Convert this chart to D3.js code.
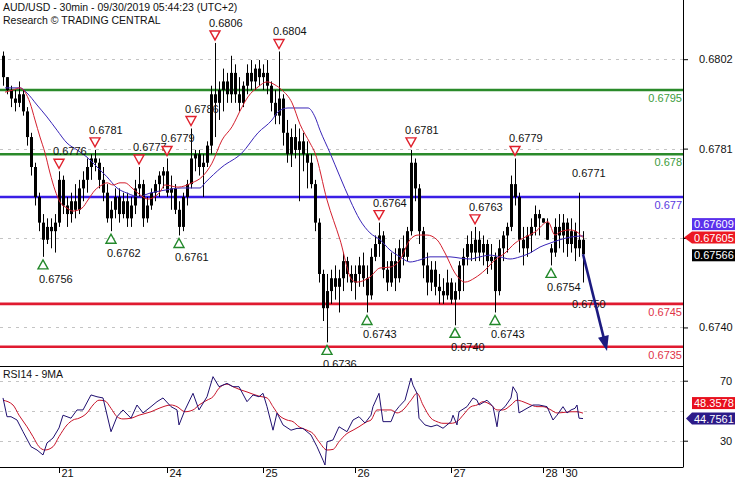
<!DOCTYPE html>
<html><head><meta charset="utf-8">
<script src="https://cdn.jsdelivr.net/npm/d3@7"></script>
<style>
body{margin:0;background:#fff;}
svg{display:block;font-family:"Liberation Sans",Arial,sans-serif;font-size:11px;}
</style>
</head><body>
<svg id="c" width="735" height="480"></svg>
<script>
// ---------- DATA ----------
const titleLines = ["AUD/USD - 30min - 09/30/2019 05:44:23 (UTC+2)", "Research \u00A9 TRADING CENTRAL"];
const rsiTitle = "RSI14 - 9MA";
const dayTicks  = [14, 41, 65, 88, 112, 135, 140];
const dayLabels = ["21", "24", "25", "26", "27", "28", "30"];
const priceTicks = [0.68022, 0.67813, 0.67604, 0.67395];
const hiddenPriceTick = 0.67604;   // its label sits behind the value boxes
const rsiGrid = [70, 50, 30];
const rsiTickLabels = [70, 30];

// [open, high, low, close] per bar
const ohlc = [
[.6803,.6804,.6796,.6798],[.6798,.6798,.6794,.6795],[.6795,.6796,.6791,.6793],[.6793,.6795,.6790,.6792],[.6792,.6797,.6791,.6794],
[.6794,.6795,.6789,.6790],[.6790,.6791,.6782,.6784],[.6784,.6785,.6775,.6777],[.6777,.6778,.6768,.6770],[.6770,.6771,.6762,.6764],
[.6764,.6766,.6756,.6760],[.6760,.6765,.6759,.6763],[.6763,.6765,.6758,.6762],[.6762,.6766,.6757,.6764],[.6764,.6776,.6763,.6774],
[.6774,.6775,.6766,.6768],[.6768,.6770,.6763,.6766],[.6766,.6771,.6764,.6769],[.6769,.6773,.6765,.6767],[.6767,.6774,.6766,.6772],
[.6772,.6776,.6769,.6774],[.6774,.6779,.6771,.6777],[.6777,.6780,.6774,.6779],[.6779,.6781,.6776,.6778],[.6778,.6779,.6772,.6774],
[.6774,.6777,.6769,.6771],[.6771,.6773,.6764,.6765],[.6765,.6769,.6762,.6767],[.6767,.6772,.6765,.6770],[.6770,.6772,.6764,.6766],
[.6766,.6771,.6765,.6769],[.6769,.6771,.6763,.6765],[.6765,.6770,.6763,.6768],[.6768,.6774,.6766,.6772],[.6772,.6777,.6770,.6773],
[.6773,.6774,.6763,.6765],[.6765,.6770,.6764,.6768],[.6768,.6772,.6767,.6771],[.6771,.6774,.6769,.6773],[.6773,.6776,.6770,.6775],
[.6775,.6777,.6772,.6776],[.6776,.6779,.6770,.6771],[.6771,.6775,.6767,.6772],[.6772,.6773,.6766,.6767],[.6767,.6769,.6761,.6763],
[.6763,.6771,.6762,.6770],[.6770,.6774,.6768,.6773],[.6773,.6786,.6772,.6779],[.6779,.6781,.6776,.6780],[.6780,.6781,.6775,.6777],
[.6777,.6780,.6770,.6778],[.6778,.6783,.6777,.6782],[.6782,.6796,.6780,.6794],[.6794,.6806,.6784,.6792],[.6792,.6797,.6788,.6795],
[.6795,.6800,.6790,.6797],[.6797,.6799,.6792,.6794],[.6794,.6803,.6792,.6799],[.6799,.6801,.6792,.6794],[.6794,.6798,.6790,.6792],
[.6792,.6797,.6791,.6796],[.6796,.6801,.6794,.6799],[.6799,.6802,.6795,.6797],[.6797,.6801,.6795,.6800],[.6800,.6802,.6796,.6798],
[.6798,.6801,.6795,.6799],[.6799,.6802,.6794,.6796],[.6796,.6797,.6790,.6792],[.6792,.6795,.6787,.6789],[.6789,.6804,.6787,.6793],
[.6793,.6794,.6782,.6785],[.6785,.6788,.6778,.6780],[.6780,.6786,.6777,.6784],[.6784,.6787,.6779,.6781],[.6781,.6786,.6769,.6783],
[.6783,.6785,.6776,.6780],[.6780,.6783,.6772,.6778],[.6778,.6780,.6772,.6773],[.6773,.6774,.6762,.6764],[.6764,.6765,.6750,.6752],
[.6752,.6753,.6741,.6744],[.6744,.6752,.6736,.6748],[.6748,.6753,.6745,.6751],[.6751,.6754,.6746,.6749],[.6749,.6753,.6743,.6751],
[.6751,.6757,.6748,.6755],[.6755,.6756,.6750,.6752],[.6752,.6754,.6748,.6750],[.6750,.6754,.6746,.6752],[.6752,.6756,.6749,.6754],
[.6754,.6757,.6749,.6751],[.6751,.6754,.6743,.6747],[.6747,.6758,.6746,.6756],[.6756,.6761,.6755,.6759],[.6759,.6764,.6756,.6761],
[.6761,.6762,.6751,.6753],[.6753,.6755,.6748,.6750],[.6750,.6757,.6749,.6755],[.6755,.6758,.6748,.6751],[.6751,.6760,.6750,.6758],
[.6758,.6761,.6754,.6756],[.6756,.6763,.6755,.6762],[.6762,.6781,.6761,.6778],[.6778,.6779,.6769,.6772],[.6772,.6773,.6759,.6762],
[.6762,.6763,.6751,.6754],[.6754,.6757,.6747,.6750],[.6750,.6755,.6748,.6753],[.6753,.6755,.6747,.6749],[.6749,.6752,.6745,.6748],
[.6748,.6751,.6745,.6747],[.6747,.6753,.6746,.6750],[.6750,.6751,.6745,.6746],[.6746,.6750,.6740,.6748],[.6748,.6755,.6746,.6754],
[.6754,.6758,.6748,.6756],[.6756,.6761,.6754,.6759],[.6759,.6762,.6755,.6757],[.6757,.6763,.6755,.6760],[.6760,.6762,.6755,.6757],
[.6757,.6761,.6754,.6759],[.6759,.6760,.6752,.6755],[.6755,.6759,.6753,.6756],[.6756,.6757,.6743,.6748],[.6748,.6760,.6747,.6758],
[.6758,.6762,.6755,.6761],[.6761,.6764,.6757,.6763],[.6763,.6775,.6762,.6773],[.6773,.6779,.6768,.6770],[.6770,.6771,.6757,.6760],
[.6760,.6763,.6754,.6758],[.6758,.6763,.6756,.6761],[.6761,.6765,.6757,.6763],[.6763,.6768,.6761,.6766],[.6766,.6767,.6761,.6765],
[.6765,.6765,.6764,.6764],[.6764,.6765,.6760,.6760],[.6758,.6759,.6754,.6757],[.6757,.6765,.6756,.6763],[.6763,.6766,.6758,.6761],
[.6761,.6766,.6757,.6764],[.6764,.6765,.6756,.6759],[.6759,.6765,.6757,.6762],[.6762,.6764,.6755,.6758],[.6758,.6771,.6756,.6760],
[.6760,.6762,.6750,.67566]
];

// moving averages: [bar index, price]
const maFast = [[0.5,.67945],[2.5,.6795],[4.25,.67955],[5.5,.67945],[6.75,.6792],[8,.6788],[9.25,.6784],[10.5,.67803],[11.75,.67756],
[13,.67716],[14.25,.67688],[16,.67674],[17.5,.67667],[19.75,.67674],[21.25,.67693],[23,.67716],[24.75,.67728],[26,.67733],[27.5,.67728],
[29.25,.67733],[30.5,.67733],[32.25,.67721],[34.25,.67705],[36.25,.67695],[39.25,.67712],[40.5,.67728],[43.75,.67723],[47.25,.67733],
[49.75,.67747],[52.25,.67779],[54.75,.67833],[57.25,.67864],[59.75,.6791],[61.25,.67934],[63.75,.67957],[66,.67969],[68,.67962],
[69.75,.6795],[72.25,.6792],[74.25,.6787],[76.75,.67826],[78,.67803],[81,.67693],[84.25,.676],[87.25,.67506],[88.5,.67501],
[91.75,.67513],[94.25,.67534],[96.75,.67536],[99.25,.67553],[101.75,.676],[103.75,.67611],[106,.67611],[108.5,.676],[110.5,.67569],
[113,.67522],[115.5,.67501],[118,.67511],[120.5,.67529],[123,.67553],[125.5,.67569],[128,.67592],[130.5,.67606],[133,.67618],
[136.25,.67642],[138,.67611],[139.25,.67618],[141.75,.67623],[143.5,.67618],[145,.67605]];
const maSlow = [[0.5,.67955],[4.25,.67955],[6,.67943],[8.5,.67915],[11,.67887],[13.5,.67856],[16,.67826],[18.5,.6781],[21,.67793],
[23.5,.6777],[26,.67747],[28.5,.67721],[31,.67709],[34.25,.677],[35.5,.67705],[40.5,.67716],[44.75,.67721],[49.25,.67721],[50.5,.67733],
[54.75,.6777],[59.75,.67803],[63.75,.6785],[67.25,.6788],[68.75,.67899],[71.25,.67908],[74.25,.67908],[76.25,.67908],[78,.67887],
[79.25,.67856],[81.75,.67803],[84.25,.67747],[86.75,.67693],[89.25,.67646],[91.75,.67616],[94.25,.676],[96.75,.67576],[99.25,.6756],
[101.75,.67548],[104.25,.67553],[106.75,.6756],[109.25,.6756],[111.75,.6756],[114.25,.67557],[116.75,.67555],[119.25,.6756],
[121.75,.67564],[124.25,.6756],[126.75,.67555],[129.25,.6756],[131.75,.67569],[134.25,.67583],[136.75,.67592],[139.25,.676],
[141.75,.67606],[145,.67609]];

// RSI(14) and its 9-period MA: [bar index, value]
const rsi = [[0,58.5],[1,46],[2,46],[3.5,43.8],[5,36],[7,26],[8.5,23.8],[10,20.5],[11,28.5],[12.5,31.8],[14,38.5],[15,47],[17,45],
[18.5,50.5],[20,50.5],[22,60.5],[23.5,59.3],[25,58.5],[27,36],[28.5,46],[30,50.5],[32,45],[33.5,53.8],[35,48.5],[37,52.7],[38.5,56],
[40,58.5],[42,52.7],[43.5,50.5],[44,40.5],[45.5,50.5],[47.5,61.6],[49,50.5],[51,59.3],[52.5,72.7],[54,66],[56,68.2],[57.5,66],[59,66],
[61,56],[62.5,60.5],[64,59.3],[65,61.6],[66,52.7],[67.5,37],[68.5,48.5],[70,40.5],[72,37],[73.5,38.2],[75,38.2],[77,33.8],[78.5,26],
[80,17],[80.5,13.8],[81,29.3],[82.5,30.5],[84,39.3],[86,36],[87.5,43.8],[89,46],[90.5,41.8],[92,47],[92.5,52.7],[94,61.6],[95,42.7],
[97,42.7],[98,49.3],[99,52.7],[100.5,57],[102,71.8],[102.5,67],[103.5,61.6],[104,45],[105.5,40.5],[107,39.3],[108.5,40.5],[110,38.3],
[112,42.7],[112.5,47],[113.5,40.5],[114,49.3],[116,52.7],[117.5,58.5],[118.5,57],[119,53.8],[121,57],[122.5,52.7],[123.5,39.3],
[124,49.3],[125.5,52.7],[127,58.5],[127.5,66],[128.5,61.6],[129,48.5],[131,51.6],[132.5,53.8],[134,53.8],[136,52.7],[137.5,43.8],
[138.5,47],[140,52.7],[141,48.5],[142,50.5],[143,51.6],[143.5,53.8],[144,45],[145,44.7561]];
const rsiMa = [[0,57],[2.5,53.8],[4,47],[6,39.3],[7.5,32.7],[9,26],[10.5,23.8],[12.5,26],[14,32.7],[16,40.5],[17.5,43.8],[19,45],
[21,48.5],[22.5,53.8],[24,57],[25.5,56.5],[27,51.6],[28.5,46],[30,44.5],[32,45],[34,47],[37,49.3],[39,51.6],[42,53.8],[43.5,52.7],
[45.5,49.3],[47.5,50.5],[49,53.8],[51,57],[52.5,59.3],[54,65],[56,67.7],[57.5,66],[59,64.3],[61,62.5],[62.5,61],[64,59.7],[66,58.5],
[67.5,52.7],[69,47],[71,43.8],[72.5,42.7],[74,39.3],[76,37],[77.5,34.8],[79,29.3],[81,23.8],[82.5,24.2],[84,29.3],[86,34.8],[87.5,37],
[89,39.3],[91,42.7],[92,43.8],[93.5,50.5],[95,50.5],[97,50.5],[98.5,48.5],[100,50.5],[102,57],[103.5,61.6],[105,53.8],[107,45],
[108.5,42.7],[110,41.6],[112,41.6],[113.5,42.7],[115,47],[117,52.7],[118.5,53.8],[120,56],[122,53.8],[123.5,50.5],[125,50.5],
[127,53.8],[128.5,57],[130,56],[132,53.8],[133.5,52.7],[135,52.7],[137,50.5],[138.5,48.5],[140,48.8],[142,49.3],[143.5,49.3],[145,48.3578]];

// key levels
const levels      = [0.6795, 0.6780, 0.6770, 0.6745, 0.6735];
const levelLabels = ["0.6795", "0.678", "0.677", "0.6745", "0.6735"];
const levelKinds  = ["res", "res", "pivot", "sup", "sup"];

// swing marks: [bar index, price]
const peaks   = [[14,.6776],[23,.6781],[34,.6777],[41,.6779],[47,.6786],[53,.6806],[69,.6804],[94,.6764],[102,.6781],[118,.6763],[128,.6779]];
const troughs = [[10,.6756],[27,.6762],[44,.6761],[81,.6736],[91,.6743],[113,.6740],[123,.6743],[137,.6754]];
const peakTextOnly   = [[144,.6771]];
const troughTextOnly = [[145,.6750]];

// forecast arrow: [bar index, price]
const forecast = [[145,.67566],[151,.6734]];

// last values
const lastClose = 0.67566, lastMaFast = 0.67605, lastMaSlow = 0.67609;
const lastRsi = 44.7561, lastRsiMa = 48.3578;

// ---------- DRAW ----------
const PR = 683, MB = 366, RT = 366, RB = 467;
const C = {res:"#2a8a2a", resT:"#3c9c3c", pivot:"#3a1ee6", pivotT:"#5a3ae0", sup:"#e01a30", supT:"#e03448",
  maFast:"#d4202e", maSlow:"#3a26b8", rsi:"#201070", rsiMa:"#c8142a", grid:"#c4c4c4"};
const FF = "Liberation Sans, Arial, sans-serif";

const svg = d3.select("#c");
const x  = d3.scaleLinear().domain([0,145]).range([3,583]);
const y  = d3.scaleLinear().domain([0.6735,0.6795]).range([346.7,90]);
const yr = d3.scaleLinear().domain([30,70]).range([440.7,380.7]);

const defs = svg.append("defs");
defs.append("clipPath").attr("id","cm").append("rect").attr("x",0).attr("y",0).attr("width",PR).attr("height",MB);
defs.append("clipPath").attr("id","cr").append("rect").attr("x",0).attr("y",RT).attr("width",PR).attr("height",RB-RT);

// gridlines
const gm = svg.append("g");
gm.selectAll("line.pg").data(priceTicks).join("line")
  .attr("x1",0).attr("x2",PR).attr("y1",d=>Math.round(y(d))+0.5).attr("y2",d=>Math.round(y(d))+0.5)
  .attr("stroke",C.grid).attr("stroke-dasharray","3,5");
gm.selectAll("line.rg").data(rsiGrid).join("line")
  .attr("x1",0).attr("x2",PR).attr("y1",d=>Math.round(yr(d))+0.5).attr("y2",d=>Math.round(yr(d))+0.5)
  .attr("stroke",C.grid).attr("stroke-dasharray","3,5");

const main = svg.append("g").attr("clip-path","url(#cm)");

// levels
main.selectAll("line.lv").data(levels).join("line")
  .attr("x1",0).attr("x2",PR).attr("y1",d=>y(d)).attr("y2",d=>y(d))
  .attr("stroke",(d,i)=>C[levelKinds[i]]).attr("stroke-width",2.6);

// candles
const cg = main.append("g");
ohlc.forEach((b,i)=>{
  const cx = Math.round(x(i));
  cg.append("line").attr("x1",cx+0.5).attr("x2",cx+0.5).attr("y1",y(b[1])).attr("y2",y(b[2]))
    .attr("stroke","#000").attr("stroke-width",1);
  const top = y(Math.max(b[0],b[3])), bot = y(Math.min(b[0],b[3]));
  cg.append("rect").attr("x",cx-1).attr("width",3).attr("y",top).attr("height",Math.max(1.5,bot-top))
    .attr("fill","#000");
});

// MAs
const ln = d3.line().x(d=>x(d[0])).y(d=>y(d[1])).curve(d3.curveMonotoneX);
main.append("path").attr("d",ln(maSlow)).attr("fill","none").attr("stroke",C.maSlow).attr("stroke-width",1);
main.append("path").attr("d",ln(maFast)).attr("fill","none").attr("stroke",C.maFast).attr("stroke-width",1);

// level labels
main.selectAll("text.lv").data(levels).join("text")
  .attr("x",PR-1).attr("y",d=>y(d)+12).attr("text-anchor","end")
  .attr("fill",(d,i)=>C[levelKinds[i]+"T"]).text((d,i)=>levelLabels[i]);

// swing marks
const fmt = d3.format(".4f");
const mk = main.append("g");
peaks.forEach(p=>{
  const cx = x(p[0]), ty = y(p[1]);
  mk.append("path").attr("d",`M${cx-5},${ty-12}L${cx+5},${ty-12}L${cx},${ty-3}Z`)
    .attr("fill","#fff").attr("stroke","#e0202c").attr("stroke-width",1.4);
  mk.append("text").attr("x",cx-6).attr("y",ty-16).attr("fill","#111").text(fmt(p[1]));
});
peakTextOnly.forEach(p=>{
  mk.append("text").attr("x",x(p[0])-7).attr("y",y(p[1])-16).attr("fill","#111").text(fmt(p[1]));
});
troughs.forEach(p=>{
  const cx = x(p[0]), ty = y(p[1]);
  mk.append("path").attr("d",`M${cx-5},${ty+12}L${cx+5},${ty+12}L${cx},${ty+3}Z`)
    .attr("fill","#fff").attr("stroke","#22882a").attr("stroke-width",1.4);
  mk.append("text").attr("x",cx-4).attr("y",ty+26).attr("fill","#111").text(fmt(p[1]));
});
troughTextOnly.forEach(p=>{
  mk.append("text").attr("x",x(p[0])-11).attr("y",y(p[1])+25).attr("fill","#111").text(fmt(p[1]));
});

// forecast arrow
{
  const x0 = x(forecast[0][0]), y0 = y(forecast[0][1]), x1 = x(forecast[1][0]), y1 = y(forecast[1][1]);
  const dx = x1-x0, dy = y1-y0, L = Math.hypot(dx,dy), ux = dx/L, uy = dy/L;
  const hl = 15, hw = 5.5;
  const bx = x1-ux*hl, by = y1-uy*hl;
  main.append("line").attr("x1",x0).attr("y1",y0).attr("x2",bx+ux*2).attr("y2",by+uy*2)
    .attr("stroke","#1c1a80").attr("stroke-width",2.6);
  main.append("path").attr("d",`M${x1},${y1}L${bx-uy*hw},${by+ux*hw}L${bx+uy*hw},${by-ux*hw}Z`).attr("fill","#1c1a80");
}

// RSI pane
const rp = svg.append("g").attr("clip-path","url(#cr)");
rp.append("path").attr("d",d3.line().x(d=>x(d[0])).y(d=>yr(d[1])).curve(d3.curveMonotoneX)(rsiMa))
  .attr("fill","none").attr("stroke",C.rsiMa).attr("stroke-width",1);
rp.append("path").attr("d",d3.line().x(d=>x(d[0])).y(d=>yr(d[1]))(rsi))
  .attr("fill","none").attr("stroke",C.rsi).attr("stroke-width",1);

// frame lines
svg.append("line").attr("x1",PR+0.5).attr("x2",PR+0.5).attr("y1",0).attr("y2",RB).attr("stroke","#000");
svg.append("line").attr("x1",0).attr("x2",PR+0.5).attr("y1",MB+0.5).attr("y2",MB+0.5).attr("stroke","#000");
svg.append("line").attr("x1",0).attr("x2",PR+0.5).attr("y1",RB+0.5).attr("y2",RB+0.5).attr("stroke","#000");

// titles
svg.append("text").attr("x",3).attr("y",11).attr("font-size",10.5).attr("fill","#111").text(titleLines[0]);
svg.append("text").attr("x",3).attr("y",24).attr("font-size",10.5).attr("fill","#111").text(titleLines[1]);
svg.append("text").attr("x",3).attr("y",378).attr("font-size",10.5).attr("fill","#111").text(rsiTitle);

// right price axis
const ya = svg.append("g").attr("transform",`translate(${PR},0)`)
  .call(d3.axisRight(y).tickValues(priceTicks).tickFormat(d=>d===hiddenPriceTick?"":fmt(d)).tickSize(5).tickPadding(11));
ya.select(".domain").remove();
ya.selectAll("text").attr("font-size",11).attr("font-family",FF).attr("fill","#111");
ya.selectAll("line").attr("stroke","#000");

// right RSI axis
const ra = svg.append("g").attr("transform",`translate(${PR},0)`)
  .call(d3.axisRight(yr).tickValues(rsiTickLabels).tickFormat(d3.format("d")).tickSize(5).tickPadding(32));
ra.select(".domain").remove();
ra.selectAll("text").attr("font-size",11).attr("font-family",FF).attr("fill","#111");

// bottom day axis
const xa = svg.append("g").attr("transform",`translate(0,${RB})`)
  .call(d3.axisBottom(x).tickValues(dayTicks).tickFormat((d,i)=>dayLabels[i]).tickSize(6));
xa.select(".domain").remove();
xa.selectAll("text").attr("font-size",11).attr("font-family",FF)
  .attr("fill","#111").attr("text-anchor","start").attr("x",2).attr("y",2);
xa.selectAll("line").attr("stroke","#000");

// value boxes
function box(cy, txt, fill, arrowX){
  const g = svg.append("g");
  if(arrowX!=null){
    g.append("path").attr("d",`M${arrowX},${cy}L692,${cy-6}L735,${cy-6}L735,${cy+6}L692,${cy+6}Z`).attr("fill",fill);
  } else {
    g.append("rect").attr("x",692).attr("y",cy-6).attr("width",43).attr("height",12).attr("fill",fill);
  }
  g.append("text").attr("x",694).attr("y",cy+4).attr("fill","#fff").attr("font-size",11).text(txt);
}
const cyRed = y(lastMaFast);
box(cyRed-13.5, lastMaSlow.toFixed(5), "#5a30ec", null);
box(cyRed, lastMaFast.toFixed(5), "#ec1822", 684);
box(y(lastClose)+1, lastClose.toFixed(5), "#000", null);
const cyR = yr(lastRsi);
box(cyR-15.5, lastRsiMa.toFixed(4), "#e8101e", null);
box(cyR, lastRsi.toFixed(4), "#2c1a88", 686);
</script>
</body></html>
